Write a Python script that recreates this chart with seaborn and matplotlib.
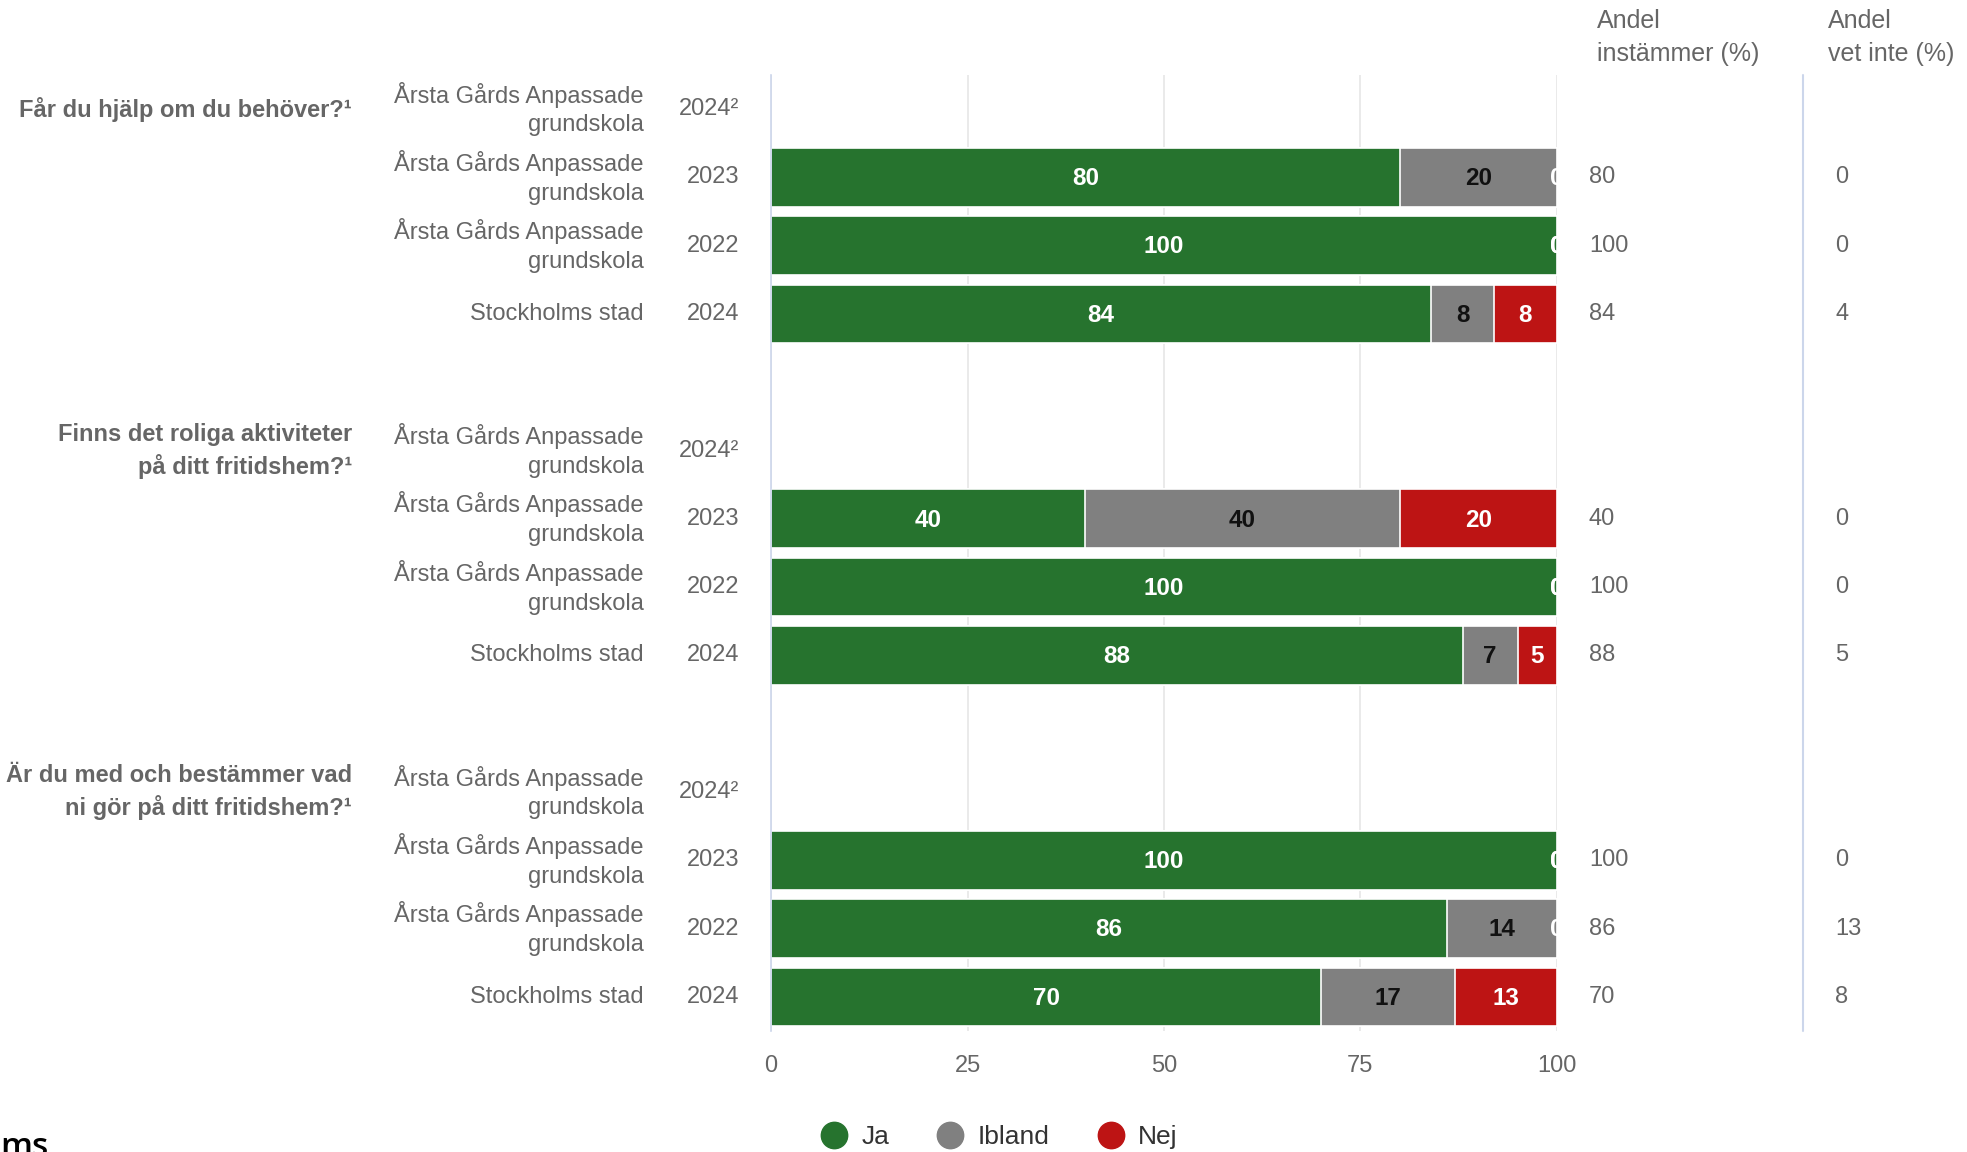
import pandas as pd
import numpy as np
import matplotlib
matplotlib.use("Agg")
import matplotlib.pyplot as plt
import matplotlib.transforms as mtransforms
from matplotlib.lines import Line2D
import seaborn as sns

# ------------------- DATA -------------------
questions = [
    "Får du hjälp om du behöver?¹",
    "Finns det roliga aktiviteter\npå ditt fritidshem?¹",
    "Är du med och bestämmer vad\nni gör på ditt fritidshem?¹",
]
units = ["Årsta Gårds Anpassade\ngrundskola", "Årsta Gårds Anpassade\ngrundskola",
         "Årsta Gårds Anpassade\ngrundskola", "Stockholms stad"]
years = ["2024²", "2023", "2022", "2024"]

ja = [[None, 80, 100, 84], [None, 40, 100, 88], [None, 100, 86, 70]]
ibland = [[None, 20, 0, 8], [None, 40, 0, 7], [None, 0, 14, 17]]
nej = [[None, 0, 0, 8], [None, 20, 0, 5], [None, 0, 0, 13]]
andel_instammer = [[None, 80, 100, 84], [None, 40, 100, 88], [None, 100, 86, 70]]
andel_vet_inte = [[None, 0, 0, 4], [None, 0, 0, 5], [None, 0, 13, 8]]

series = ["Ja", "Ibland", "Nej"]
colors = {"Ja": "#26732e", "Ibland": "#808080", "Nej": "#bd1414"}
label_colors = {"Ja": "white", "Ibland": "#111111", "Nej": "white"}

# 14 slots: 4 rows per question + one blank row between groups
order = []
rows = []
for g in range(len(questions)):
    for r in range(len(years)):
        key = f"{g}-{r}"
        order.append(key)
        if ja[g][r] is not None:
            rows.append({"key": key, "g": g, "r": r, "Ja": ja[g][r],
                         "Ibland": ibland[g][r], "Nej": nej[g][r]})
    if g < len(questions) - 1:
        order.append(f"blank{g}")
df = pd.DataFrame(rows)
df["c_ja"] = df["Ja"]
df["c_ib"] = df["Ja"] + df["Ibland"]
df["c_nej"] = df["Ja"] + df["Ibland"] + df["Nej"]

# ------------------- FIGURE -------------------
sns.set_theme(style="white")
plt.rcParams["font.family"] = ["Liberation Sans", "DejaVu Sans"]

fig = plt.figure(figsize=(19.67, 11.52), dpi=100)
ax = fig.add_axes([0.392, 0.105, 0.3995, 0.83])

bar_kw = dict(y="key", order=order, orient="y", width=0.86,
              edgecolor="white", linewidth=1.2, ax=ax, saturation=1)
sns.barplot(data=df, x="c_nej", color=colors["Nej"], **bar_kw)
sns.barplot(data=df, x="c_ib", color=colors["Ibland"], **bar_kw)
sns.barplot(data=df, x="c_ja", color=colors["Ja"], **bar_kw)

ax.set_xlim(0, 100)
ax.set_ylim(len(order) - 0.5, -0.5)
ax.set_xticks([0, 25, 50, 75, 100])
ax.set_xlabel("")
ax.set_ylabel("")
ax.grid(axis="x", color="#e6e6e6", linewidth=1.2)
ax.set_axisbelow(True)
for s in ["top", "right", "bottom"]:
    ax.spines[s].set_visible(False)
ax.spines["left"].set_color("#ccd6eb")
ax.spines["left"].set_linewidth(1.2)
ax.tick_params(axis="x", length=0, pad=17, labelsize=17, labelcolor="#666666")
ax.set_yticks(range(len(order)))
ax.set_yticklabels([])
ax.tick_params(axis="y", which="major", length=0)
ax.set_yticks(np.arange(-0.5, len(order), 1), minor=True)
ax.tick_params(axis="y", which="minor", length=14, width=1.5, color="#ccd6eb", direction="out")

# segment labels
for _, row in df.iterrows():
    y = order.index(row["key"])
    start = 0
    for s in series:
        v = row[s]
        ax.text(start + v / 2, y + 0.02, f"{v:g}", ha="center", va="center",
                fontsize=17.5, fontweight="bold", color=label_colors[s] if v > 0 else "white",
                clip_on=True)
        start += v

# y-axis labels and side columns
trans = mtransforms.blended_transform_factory(fig.transFigure, ax.transData)
for g, q in enumerate(questions):
    first = order.index(f"{g}-0")
    fig.text(0.179, first, q, transform=trans, ha="right", va="center", fontsize=17,
             fontweight="bold", color="#666666", linespacing=1.4, multialignment="right")
    for r in range(len(years)):
        y = order.index(f"{g}-{r}")
        fig.text(0.3272, y, units[r], transform=trans, ha="right", va="center",
                 fontsize=17, color="#666666", linespacing=1.4, multialignment="right")
        fig.text(0.3757, y, years[r], transform=trans, ha="right", va="center",
                 fontsize=17, color="#666666")
        if andel_instammer[g][r] is not None:
            fig.text(0.8078, y, f"{andel_instammer[g][r]}", transform=trans, ha="left",
                     va="center", fontsize=17, color="#666666")
            fig.text(0.9329, y, f"{andel_vet_inte[g][r]}", transform=trans, ha="left",
                     va="center", fontsize=17, color="#666666")

# column headers and separator
fig.text(0.8119, 0.9674, "Andel\ninstämmer (%)", ha="left", va="center",
         fontsize=18, color="#666666", linespacing=1.45)
fig.text(0.9293, 0.9674, "Andel\nvet inte (%)", ha="left", va="center",
         fontsize=18, color="#666666", linespacing=1.45)
fig.add_artist(Line2D([0.9166, 0.9166], [-0.5, len(order) - 0.5], transform=trans,
                      color="#ccd6eb", linewidth=1.5))

# legend
handles = [Line2D([], [], marker="o", linestyle="", markersize=19,
                  markerfacecolor=colors[s], markeredgecolor=colors[s]) for s in series]
fig.legend(handles, series, loc="center", bbox_to_anchor=(0.508, 0.013), ncol=3,
           frameon=False, fontsize=19, handlelength=1.0, handletextpad=0.55,
           columnspacing=1.8, labelcolor="#333333")

# cut-off heading fragment at the bottom left (cut in the reference too)
fig.text(0.0, -0.0035, "ms", ha="left", va="baseline", fontsize=24,
         fontweight="semibold", color="black", family=["Open Sans", "DejaVu Sans"])

fig.savefig("out.png", dpi=100)
